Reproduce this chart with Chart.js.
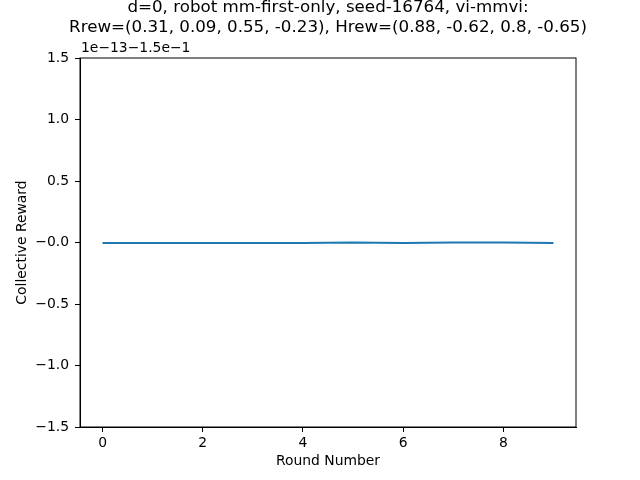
<!DOCTYPE html>
<html>
<head>
<meta charset="utf-8">
<script src="https://cdn.jsdelivr.net/npm/chart.js@4"></script>
<style>
  html, body { margin: 0; padding: 0; background: #fff; }
  #wrap { width: 640px; height: 480px; }
</style>
</head>
<body>
<div id="wrap"><canvas id="myChart" width="640" height="480"></canvas></div>
<script>
// data (y in units of 1e-13, offset -1.5e-1)
var rounds = [0, 1, 2, 3, 4, 5, 6, 7, 8, 9];
var reward = [-0.005, -0.005, -0.005, -0.005, -0.005, 0.0, -0.005, 0.0, 0.0, -0.005];
var xTicks = [0, 2, 4, 6, 8];
var yTicks = [-1.5, -1.0, -0.5, 0.0, 0.5, 1.0, 1.5];
var titleLines = ['d=0, robot mm-first-only, seed-16764, vi-mmvi:',
  'Rrew=(0.31, 0.09, 0.55, -0.23), Hrew=(0.88, -0.62, 0.8, -0.65)'];
var offsetText = '1e\u221213\u22121.5e\u22121';

var font = 'DejaVu Sans';

// title, offset text and the top/right spines
var decor = {
  id: 'decor',
  afterDraw: function(chart) {
    var c = chart.ctx, a = chart.chartArea;
    c.save();
    c.strokeStyle = '#000';
    c.lineWidth = 1;
    c.strokeRect(a.left, a.top, a.right - a.left, a.bottom - a.top);
    c.fillStyle = '#000';
    c.textAlign = 'center';
    c.textBaseline = 'middle';
    c.font = '16.7px "' + font + '"';
    var cx = (a.left + a.right) / 2;
    c.fillText(titleLines[0], cx, 8);
    c.fillText(titleLines[1], cx, 28);
    c.textAlign = 'left';
    c.font = '13.9px "' + font + '"';
    c.fillText(offsetText, a.left + 1, 48);
    c.restore();
  }
};

var ctx = document.getElementById('myChart').getContext('2d');
var chart = new Chart(ctx, {
  type: 'line',
  data: {
    datasets: [{
      data: rounds.map(function(r, i) { return { x: r, y: reward[i] }; }),
      borderColor: '#1f77b4',
      borderWidth: 2,
      pointRadius: 0,
      fill: false,
      tension: 0
    }]
  },
  options: {
    responsive: false,
    animation: false,
    layout: { padding: { left: 0, right: 64, top: 58, bottom: 0 } },
    plugins: { legend: { display: false }, tooltip: { enabled: false }, title: { display: false } },
    scales: {
      x: {
        type: 'linear',
        min: -0.45,
        max: 9.45,
        afterFit: function(s) { s.height = 53; },
        afterBuildTicks: function(s) { s.ticks = xTicks.map(function(v) { return { value: v }; }); },
        grid: { display: true, drawOnChartArea: false, tickLength: 5, color: '#000' },
        border: { display: true, color: '#000' },
        ticks: { color: '#000', padding: 3, maxRotation: 0, font: { family: font, size: 13.9 },
          callback: function(v) { return String(v); } },
        title: { display: true, text: 'Round Number', color: '#000', padding: { top: 0, bottom: 10 },
          font: { family: font, size: 13.9 } }
      },
      y: {
        min: -1.5,
        max: 1.5,
        afterFit: function(s) { s.width = 80; },
        afterBuildTicks: function(s) { s.ticks = yTicks.map(function(v) { return { value: v }; }); },
        grid: { display: true, drawOnChartArea: false, tickLength: 5, color: '#000' },
        border: { display: true, color: '#000' },
        ticks: { color: '#000', padding: 6, font: { family: font, size: 13.9 },
          callback: function(v) { return v === 0 ? '\u22120.0' : (v < 0 ? '\u2212' + Math.abs(v).toFixed(1) : v.toFixed(1)); } },
        title: { display: true, text: 'Collective Reward', color: '#000', padding: { top: 14, bottom: 0 },
          font: { family: font, size: 13.9 } }
      }
    }
  },
  plugins: [decor]
});
</script>
</body>
</html>
